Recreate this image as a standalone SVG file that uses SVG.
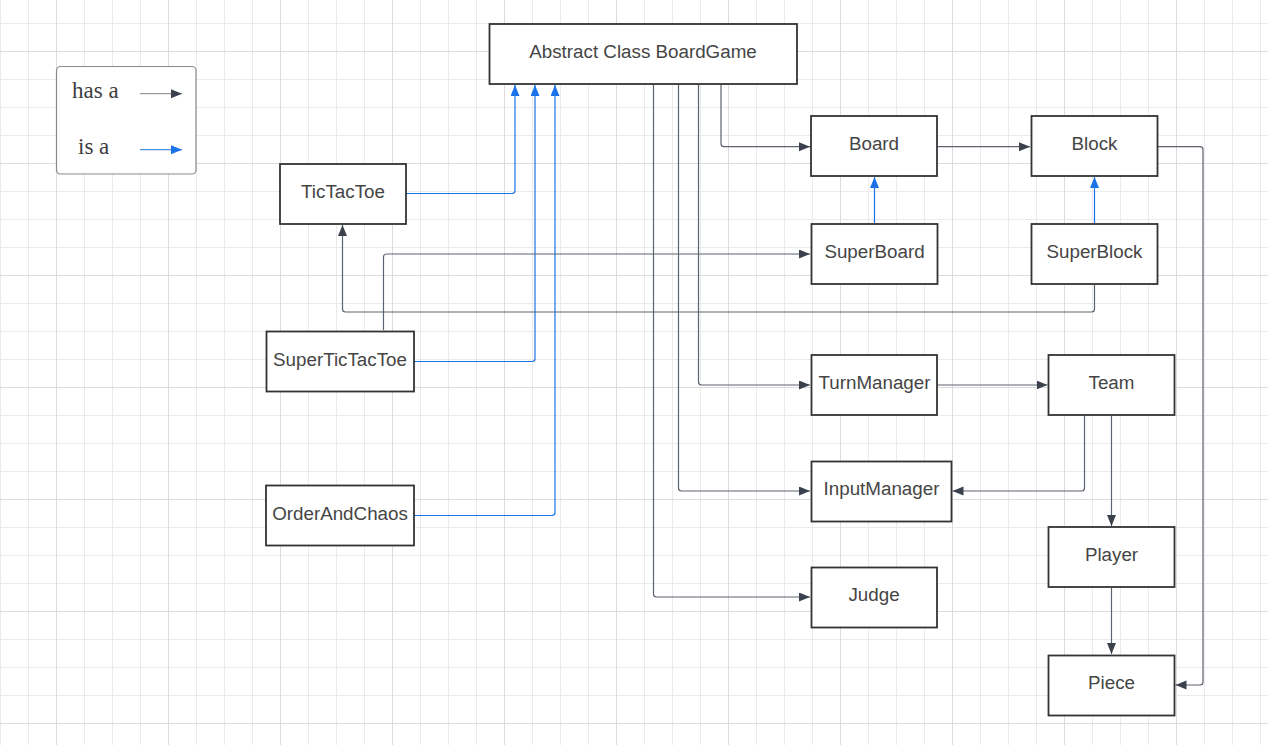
<svg xmlns="http://www.w3.org/2000/svg" width="1268" height="745" viewBox="0 0 1268 745">
<style>
.box{fill:#fff;stroke:#333;stroke-width:1.8}
.lbl{font-family:"Liberation Sans",Arial,sans-serif;font-size:18.8px;fill:#454545;text-anchor:middle}
.leg{font-family:"Liberation Serif","Times New Roman",serif;font-size:23px;fill:#3d3d3d}
.has{fill:none;stroke:#5c6370;stroke-width:1.2;marker-end:url(#ah)}
.isa{fill:none;stroke:#1a73e8;stroke-width:1.2;marker-end:url(#ab)}
</style>
<defs>
<pattern id="grid" patternUnits="userSpaceOnUse" x="0" y="-5" width="112" height="112">
<path d="M0.5 0V112M28.5 0V112M84.5 0V112M0 0.5H112M0 28.5H112M0 84.5H112" stroke="#ebebeb" stroke-width="1" fill="none"/>
<path d="M56.5 0V112M0 56.5H112" stroke="#dcdcdc" stroke-width="1" fill="none"/>
</pattern>
<marker id="ah" markerUnits="userSpaceOnUse" markerWidth="12" markerHeight="10" refX="11" refY="4.5" orient="auto">
<path d="M0,0 L11,4.5 L0,9 z" fill="#3a414d"/>
</marker>
<marker id="ab" markerUnits="userSpaceOnUse" markerWidth="12" markerHeight="10" refX="11" refY="4.5" orient="auto">
<path d="M0,0 L11,4.5 L0,9 z" fill="#1a73e8"/>
</marker>
</defs>
<rect width="1268" height="745" fill="#fff"/>
<rect width="1268" height="745" fill="url(#grid)"/>

<g id="legend">
<rect x="56.5" y="66.5" width="139.5" height="107.5" rx="4" fill="#fff" stroke="#858a91" stroke-width="1.2"/>
<text class="leg" x="72" y="98">has a</text>
<text class="leg" x="78" y="154">is a</text>
<path d="M140 93.7H182" stroke="#9a9a9a" stroke-width="1.2" fill="none" marker-end="url(#ah)"/>
<path d="M140 149.7H182" stroke="#4a90e8" stroke-width="1.2" fill="none" marker-end="url(#ab)"/>
</g>

<g id="connectors">
<path class="isa" d="M406,193.5 H512 Q515,193.5 515,190.5 V85"/>
<path class="isa" d="M414,361.5 H532 Q535,361.5 535,358.5 V85"/>
<path class="isa" d="M414,515.5 H552 Q555,515.5 555,512.5 V85"/>
<path class="isa" d="M874.5,223 V177"/>
<path class="isa" d="M1094.5,223 V177"/>
<path class="has" d="M721,85 V143.7 Q721,146.7 724,146.7 H810"/>
<path class="has" d="M698.5,85 V382 Q698.5,385 701.5,385 H810"/>
<path class="has" d="M678.5,85 V488 Q678.5,491 681.5,491 H810"/>
<path class="has" d="M653.5,85 V594 Q653.5,597 656.5,597 H810"/>
<path class="has" d="M938,146.7 H1030"/>
<path class="has" d="M1158,146.7 H1200 Q1203,146.7 1203,149.7 V682 Q1203,685 1200,685 H1175.5"/>
<path class="has" d="M1094.5,285 V309 Q1094.5,312 1091.5,312 H345.5 Q342.5,312 342.5,309 V225"/>
<path class="has" d="M383.5,330 V257 Q383.5,254 386.5,254 H810"/>
<path class="has" d="M938,385 H1047.5"/>
<path class="has" d="M1084.5,416 V488 Q1084.5,491 1081.5,491 H952.5"/>
<path class="has" d="M1111.5,416 V526"/>
<path class="has" d="M1111.5,588 V654"/>
</g>

<g id="boardgame"><rect class="box" x="489.5" y="24" width="307.5" height="60"/><text class="lbl" x="643" y="58">Abstract Class BoardGame</text></g>
<g id="tictactoe"><rect class="box" x="280" y="164" width="126" height="60"/><text class="lbl" x="343" y="198">TicTacToe</text></g>
<g id="supertictactoe"><rect class="box" x="266.5" y="331.5" width="147.5" height="60"/><text class="lbl" x="340" y="366">SuperTicTacToe</text></g>
<g id="orderandchaos"><rect class="box" x="266" y="485.5" width="148" height="60"/><text class="lbl" x="340" y="520">OrderAndChaos</text></g>
<g id="board"><rect class="box" x="811" y="116" width="126" height="60"/><text class="lbl" x="874" y="150">Board</text></g>
<g id="superboard"><rect class="box" x="811.5" y="224" width="126" height="60"/><text class="lbl" x="874.5" y="258">SuperBoard</text></g>
<g id="block"><rect class="box" x="1031.5" y="116" width="126" height="60"/><text class="lbl" x="1094.5" y="150">Block</text></g>
<g id="superblock"><rect class="box" x="1031.5" y="224" width="126" height="60"/><text class="lbl" x="1094.5" y="258">SuperBlock</text></g>
<g id="turnmanager"><rect class="box" x="811.5" y="355" width="125.5" height="60"/><text class="lbl" x="874.5" y="389">TurnManager</text></g>
<g id="inputmanager"><rect class="box" x="811.5" y="461.5" width="140" height="60"/><text class="lbl" x="881.5" y="495">InputManager</text></g>
<g id="judge"><rect class="box" x="811.5" y="567.5" width="125.5" height="60"/><text class="lbl" x="874" y="601">Judge</text></g>
<g id="team"><rect class="box" x="1048.5" y="355" width="126" height="60"/><text class="lbl" x="1111.5" y="389">Team</text></g>
<g id="player"><rect class="box" x="1048.5" y="527" width="126" height="60"/><text class="lbl" x="1111.5" y="561">Player</text></g>
<g id="piece"><rect class="box" x="1048.5" y="655.5" width="126" height="60"/><text class="lbl" x="1111.5" y="689">Piece</text></g>
</svg>
